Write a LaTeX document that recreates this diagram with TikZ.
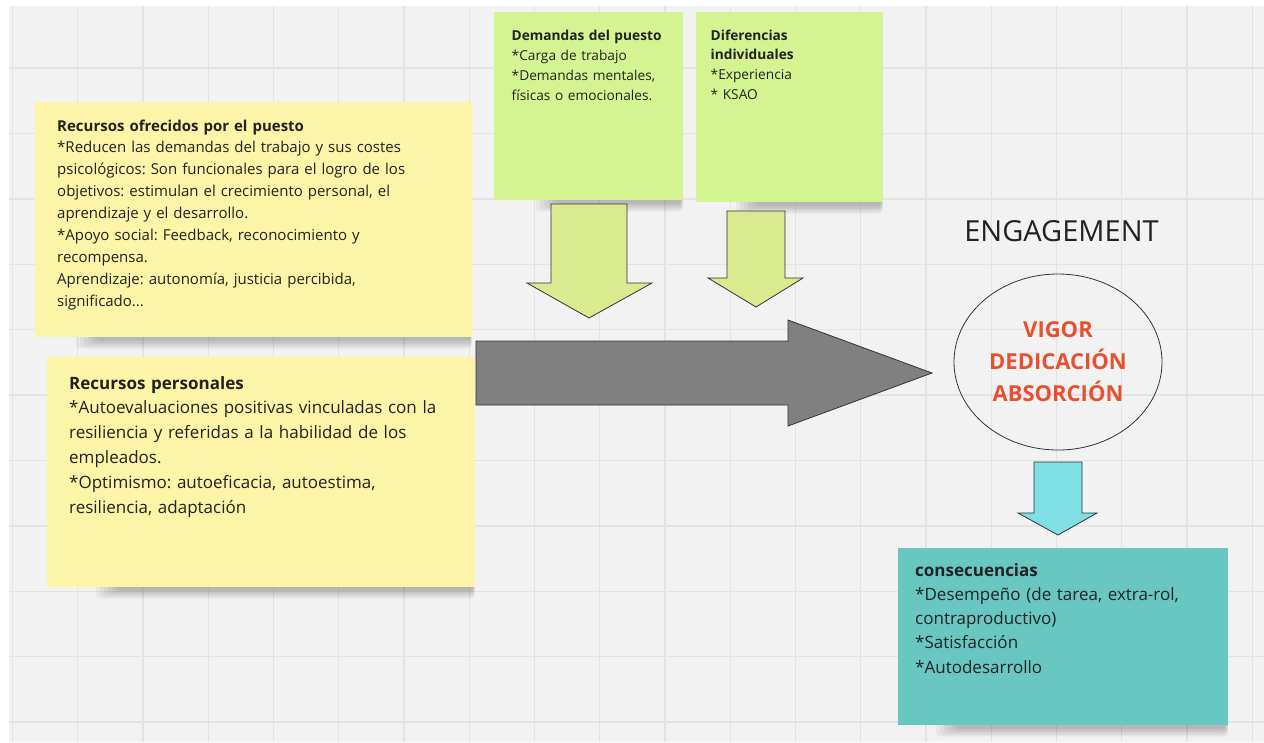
\documentclass[tikz,border=0pt]{standalone}
\usepackage{fontspec}
\setmainfont{Open Sans}
\frenchspacing
\usetikzlibrary{shapes.geometric}
\definecolor{bgc}{HTML}{F2F2F2}
\definecolor{gridc}{HTML}{E3E3E3}
\definecolor{yelc}{HTML}{FCF4A6}
\definecolor{grnc}{HTML}{D4F491}
\definecolor{arrgc}{HTML}{DAEA8E}
\definecolor{tealc}{HTML}{68C7C0}
\definecolor{cyanc}{HTML}{80DEE5}
\definecolor{greyc}{HTML}{808080}
\definecolor{redc}{HTML}{E8502F}
\definecolor{txtc}{HTML}{222222}
\definecolor{edgec}{HTML}{333333}
\newcommand\noteshadow[3]{%
  \foreach \k in {1,...,6}{%
    \fill[black,opacity=0.045,rounded corners=4pt]
      ({#1+40-4*\k},{#3-6}) rectangle ({#2-2+0.3*\k},{#3+2+1.6*\k});}}
\tikzset{
  note/.style={rectangle, inner sep=0pt, anchor=north west},
  notetext/.style={anchor=base west, inner sep=0pt, align=left, text=txtc},
  blockarrow/.style={draw=edgec, line width=0.8pt, line join=miter},
}
\begin{document}
\begin{tikzpicture}[x=1pt,y=-1pt]
\useasboundingbox (0,0) rectangle (1264,742);
\fill[white] (0,0) rectangle (1264,742);
\fill[bgc] (9,6) rectangle (1264,742);
\begin{scope}
\clip (9,6) rectangle (1264,742);
\foreach \i in {0,...,19}{\draw[gridc,line width=1.4pt] ({12.5+65.25*\i},6) -- ({12.5+65.25*\i},742);}
\foreach \j in {0,...,11}{\draw[gridc,line width=1.4pt] (9,{2.6+65.4*\j}) -- (1264,{2.6+65.4*\j});}
\end{scope}

% shadows
\noteshadow{60}{472}{337}
\noteshadow{80}{475}{587}
\noteshadow{520}{683}{200}
\noteshadow{720}{883}{202}
\noteshadow{920}{1228}{725}

% notes
\node[note, fill=yelc, minimum width=437pt, minimum height=235pt] (b1) at (35,102) {};
\node[note, fill=yelc, minimum width=428pt, minimum height=230pt] (b2) at (47,357) {};
\node[note, fill=grnc, minimum width=189pt, minimum height=188pt] (g1) at (494,12) {};
\node[note, fill=grnc, minimum width=187pt, minimum height=190pt] (g2) at (696,12) {};
\node[note, fill=tealc, minimum width=330pt, minimum height=177pt] (c1) at (898,548) {};

% texts
\node[notetext, text width=420pt, font=\fontsize{15}{21.9}\selectfont] (t1) at (57,131)
{\textbf{Recursos ofrecidos por el puesto}\\{}%
*Reducen las demandas del trabajo y sus costes\\{}%
psicológicos: Son funcionales para el logro de los\\{}%
objetivos: estimulan el crecimiento personal, el\\{}%
aprendizaje y el desarrollo.\\{}%
*Apoyo social: Feedback, reconocimiento y\\{}%
recompensa.\\{}%
Aprendizaje: autonomía, justicia percibida,\\{}%
significado...};
\node[notetext, text width=420pt, font=\fontsize{17}{24.8}\selectfont] (t2) at (69,389)
{\textbf{Recursos personales}\\{}%
*Autoevaluaciones positivas vinculadas con la\\{}%
resiliencia y referidas a la habilidad de los\\{}%
empleados.\\{}%
*Optimismo: autoeficacia, autoestima,\\{}%
resiliencia, adaptación};
\node[notetext, text width=185pt, font=\fontsize{13.7}{20}\selectfont] (t3) at (511.5,40)
{\textbf{Demandas del puesto}\\{}%
*Carga de trabajo\\{}%
*Demandas mentales,\\{}%
físicas o emocionales.};
\node[notetext, text width=175pt, font=\fontsize{13.7}{19.8}\selectfont] (t4) at (710.5,40)
{\textbf{Diferencias}\\{}%
\textbf{individuales}\\{}%
*Experiencia\\{}%
* KSAO};
\node[notetext, text width=320pt, font=\fontsize{17}{24.3}\selectfont] (t5) at (915,576)
{\textbf{consecuencias}\\{}%
*Desempeño (de tarea, extra-rol,\\{}%
contraproductivo)\\{}%
*Satisfacción\\{}%
*Autodesarrollo};

% block arrows
\draw[blockarrow, fill=arrgc] (551,204) -- (627,204) -- (627,283) -- (652,283) -- (589,318) -- (527,283) -- (551,283) -- cycle;
\draw[blockarrow, fill=arrgc] (727,211) -- (785,211) -- (785,278) -- (803,278) -- (756,307) -- (708,278) -- (727,278) -- cycle;
\draw[blockarrow, fill=greyc] (476,341) -- (788,341) -- (788,320) -- (932,373) -- (788,426) -- (788,405) -- (476,405) -- cycle;
\draw[blockarrow, fill=cyanc] (1034,462) -- (1082,462) -- (1082,513) -- (1097,513) -- (1058,535) -- (1018,513) -- (1034,513) -- cycle;

% engagement
\node[anchor=base, inner sep=0pt, text=txtc, font=\fontsize{29}{31}\selectfont] (eng) at (1061.5,241.7) {ENGAGEMENT};
\node[ellipse, draw=edgec, line width=0.8pt, minimum width=208pt, minimum height=176pt, inner sep=0pt] (ell) at (1058,362) {};
\node[align=center, inner sep=0pt, text=redc, font=\bfseries\fontsize{22}{32}\selectfont] (dims) at (ell.center) {VIGOR\\DEDICACIÓN\\ABSORCIÓN};
\end{tikzpicture}
\end{document}
